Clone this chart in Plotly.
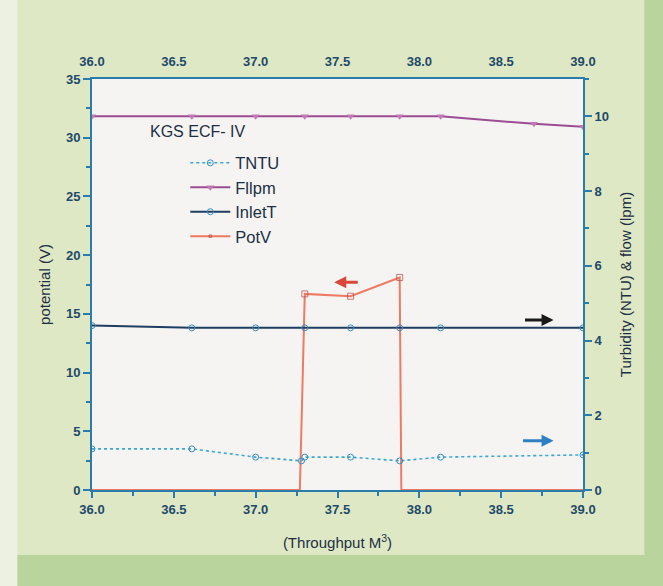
import plotly.graph_objects as go

# ---- data ----
tntu_x = [36.0, 36.61, 37.0, 37.28, 37.3, 37.58, 37.88, 38.13, 39.0]
tntu_y = [1.1, 1.1, 0.88, 0.78, 0.88, 0.88, 0.78, 0.88, 0.94]

flow_x = [36.0, 36.61, 37.0, 37.3, 37.58, 37.88, 38.13, 38.7, 39.0]
flow_y = [10.0, 10.0, 10.0, 10.0, 10.0, 10.0, 10.0, 9.8, 9.72]

inlet_x = [36.0, 36.61, 37.0, 37.3, 37.58, 37.88, 38.13, 39.0]
inlet_y = [4.40, 4.34, 4.34, 4.34, 4.34, 4.34, 4.34, 4.34]

pot_x = [36.0, 37.27, 37.3, 37.58, 37.88, 37.89, 39.0]
pot_y = [0.0, 0.0, 16.7, 16.5, 18.1, 0.0, 0.0]

x_ticks = [36.0, 36.5, 37.0, 37.5, 38.0, 38.5, 39.0]
x_ticklabels = ["36.0", "36.5", "37.0", "37.5", "38.0", "38.5", "39.0"]

AX = "#2a7cab"
TXT = "#1e4a6a"
FONT = "Liberation Sans, Arial, sans-serif"

fig = go.Figure()

fig.add_trace(go.Scatter(x=tntu_x, y=tntu_y, name="TNTU", yaxis="y2",
                         mode="lines+markers",
                         line=dict(color="#3ba6d6", width=1.6, dash="dot"),
                         marker=dict(symbol="circle-open", size=6, color="#3a8fc0")))
fig.add_trace(go.Scatter(x=flow_x, y=flow_y, name="Fllpm", yaxis="y2",
                         mode="lines+markers",
                         line=dict(color="#9b4c92", width=2),
                         marker=dict(symbol="triangle-down", size=7, color="#c27ab6")))
fig.add_trace(go.Scatter(x=inlet_x, y=inlet_y, name="InletT", yaxis="y2",
                         mode="lines+markers",
                         line=dict(color="#1f3d62", width=2),
                         marker=dict(symbol="circle-open", size=6, color="#3a8fc0")))
pot_sizes = [0 if v == 0 else 6 for v in pot_y]
fig.add_trace(go.Scatter(x=pot_x, y=pot_y, name="PotV", yaxis="y",
                         mode="lines+markers",
                         line=dict(color="#ee7a62", width=2),
                         marker=dict(symbol="square-open", size=pot_sizes, color="#b04a4a")))
# dummy trace to display top axis
fig.add_trace(go.Scatter(x=[36.0, 39.0], y=[None, None], xaxis="x2", yaxis="y",
                         showlegend=False, hoverinfo="skip", mode="lines"))

tickfont = dict(family=FONT, size=13, color=TXT, weight="bold")
titlefont = dict(family=FONT, size=15, color="#1d2f45")

fig.update_layout(
    width=663, height=586,
    margin=dict(l=92, r=80, t=79, b=96),
    paper_bgcolor="#dfe8c4",
    plot_bgcolor="#f5f4f2",
    showlegend=True,
    legend=dict(x=0.19, y=0.838, xanchor="left", yanchor="top",
                bgcolor="rgba(0,0,0,0)", borderwidth=0,
                font=dict(family=FONT, size=16.5, color="#1d2f45"),
                tracegroupgap=0, itemwidth=40),
    xaxis=dict(range=[36.0, 39.0], tickvals=x_ticks, ticktext=x_ticklabels,
               ticks="outside", ticklen=6, tickwidth=2, tickcolor=AX,
               minor=dict(ticks="outside", ticklen=4, dtick=0.25, tickwidth=2, tickcolor=AX),
               showline=True, linecolor=AX, linewidth=2, showgrid=False, zeroline=False,
               tickfont=tickfont,
               title=dict(text="(Throughput M<sup>3</sup>)", standoff=22, font=titlefont)),
    xaxis2=dict(range=[36.0, 39.0], overlaying="x", side="top",
                tickvals=x_ticks, ticktext=x_ticklabels,
                ticks="outside", ticklen=6, tickcolor="rgba(0,0,0,0)",
                showline=True, linecolor=AX, linewidth=2, showgrid=False, zeroline=False,
                tickfont=tickfont),
    yaxis=dict(range=[0, 35], dtick=5, ticks="outside", ticklen=7, tickwidth=2, tickcolor=AX,
               minor=dict(ticks="outside", ticklen=4, dtick=2.5, tickwidth=2, tickcolor=AX),
               showline=True, linecolor=AX, linewidth=2, showgrid=False, zeroline=False,
               tickfont=tickfont,
               title=dict(text="potential (V)", standoff=12, font=titlefont)),
    yaxis2=dict(range=[0, 11], dtick=2, overlaying="y", side="right",
                ticks="outside", ticklen=7, tickwidth=2, tickcolor=AX,
                minor=dict(ticks="outside", ticklen=4, dtick=1, tickwidth=2, tickcolor=AX),
                showline=True, linecolor=AX, linewidth=2, showgrid=False, zeroline=False,
                tickfont=tickfont,
                title=dict(text="Turbidity (NTU) & flow (lpm)", standoff=12, font=titlefont)),
)

fig.add_annotation(x=0.114, y=0.873, xref="paper", yref="paper", text="KGS ECF- IV",
                   showarrow=False, xanchor="left", yanchor="middle",
                   font=dict(family=FONT, size=16, color="#1d2f45"))

# direction arrows
fig.add_annotation(x=37.48, y=17.7, xref="x", yref="y", ax=25, ay=0, text="",
                   showarrow=True, arrowhead=2, arrowsize=0.8, arrowwidth=3, arrowcolor="#d9473a")
fig.add_annotation(x=38.82, y=4.55, xref="x", yref="y2", ax=-30, ay=0, text="",
                   showarrow=True, arrowhead=2, arrowsize=0.8, arrowwidth=3, arrowcolor="#1a1a1a")
fig.add_annotation(x=38.82, y=1.32, xref="x", yref="y2", ax=-32, ay=0, text="",
                   showarrow=True, arrowhead=2, arrowsize=0.8, arrowwidth=3, arrowcolor="#2f7fc4")

# decorative frame bands
fig.add_shape(type="rect", xref="paper", yref="paper", x0=-0.2, x1=1.25, y0=-0.26, y1=-0.158,
              fillcolor="#b9d59d", line_width=0, layer="below")
fig.add_shape(type="rect", xref="paper", yref="paper", x0=1.125, x1=1.25, y0=-0.26, y1=1.25,
              fillcolor="#b9d59d", line_width=0, layer="below")
fig.add_shape(type="rect", xref="paper", yref="paper", x0=-0.2, x1=-0.152, y0=-0.26, y1=1.25,
              fillcolor="#edf1e1", line_width=0, layer="below")

fig.write_html("out.html")
